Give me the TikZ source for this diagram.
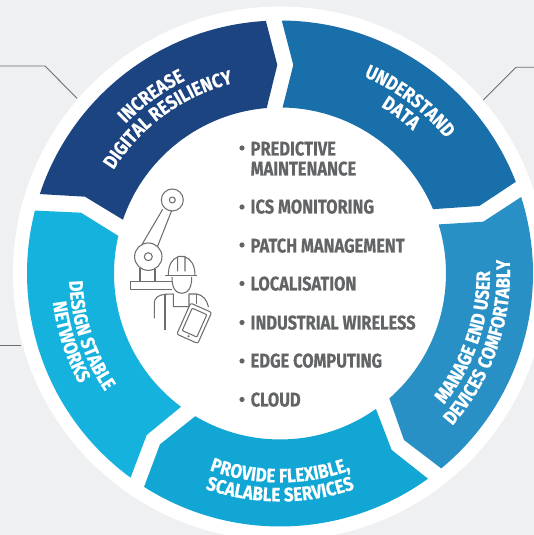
\documentclass[tikz,border=0pt]{standalone}
\usepackage{fontspec}
\usetikzlibrary{decorations.text}
\newfontfamily\labfont{Fira Sans}[FakeStretch=0.87,BoldFeatures={FakeBold=0.35}]
\newfontfamily\listfont{Fira Sans}[FakeStretch=0.83,BoldFeatures={FakeBold=0.35}]
\definecolor{pagebg}{HTML}{EFF0F2}
\definecolor{segA}{HTML}{1C4481}
\definecolor{segB}{HTML}{186FAA}
\definecolor{segC}{HTML}{2890C4}
\definecolor{segD}{HTML}{11A6D4}
\definecolor{segE}{HTML}{15B2DE}
\definecolor{ink}{HTML}{636466}
\definecolor{leader}{HTML}{6D6E70}
\tikzset{
  x=1pt,y=1pt,
  leaderline/.style={draw=leader,line width=0.9pt},
  icon/.style={draw=leader,line width=1.05pt,line join=round},
  item/.style={anchor=base west,text=ink,font=\listfont\bfseries\fontsize{19.8}{20}\selectfont,inner sep=0pt},
  dotmark/.style={fill=ink,draw=none,circle,minimum size=5.2pt,inner sep=0pt},
}
% radius, from angle, to angle, text
\newcommand\arclabel[4]{%
  \path[decorate,decoration={text along path,text align=center,
    text={|\labfont\bfseries\fontsize{19.5}{20}\selectfont\color{white}|#4}}]
    (#2:#1) arc[start angle=#2,end angle=#3,radius=#1];}
\begin{document}
\begin{tikzpicture}
\useasboundingbox (0,0) rectangle (534,535);
\fill[pagebg] (0,0) rectangle (534,535);
\begin{scope}[shift={(280,261.5)}]
\fill[white] (0,0) circle[radius=267];
% segments
\fill[segA] (93.2:253) arc[start angle=93.2,end angle=161.7,radius=253] -- (-195,76.8) -- (161.1:166) arc[start angle=161.1,end angle=94.6,radius=166] -- (-2.7,208.5) -- cycle;
\fill[segB] (89.6:253) arc[start angle=89.6,end angle=21.25,radius=253] -- (199.3,67.5) -- (22.8:166) arc[start angle=22.8,end angle=89.1,radius=166] -- (13.3,208.5) -- cycle;
\fill[segC] (17.6:253) arc[start angle=17.6,end angle=-50.4,radius=253] -- (124,-166.5) -- (-48.8:166) arc[start angle=-48.8,end angle=17.2,radius=166] -- (203.3,51.8) -- cycle;
\fill[segD] (-54.2:253) arc[start angle=-54.2,end angle=-122.5,radius=253] -- (-120,-170.8) -- (-120.7:166) arc[start angle=-120.7,end angle=-54.7,radius=166] -- (111.7,-176.5) -- cycle;
\fill[segE] (233.8:253) arc[start angle=233.8,end angle=165.6,radius=253] -- (-199,60.8) -- (166.9:166) arc[start angle=166.9,end angle=233.4,radius=166] -- (-133.3,-161.5) -- cycle;
% curved labels
\arclabel{215}{156}{96}{INCREASE}
\arclabel{196}{156}{96}{DIGITAL RESILIENCY}
\arclabel{214}{83}{23}{UNDERSTAND}
\arclabel{195}{83}{23}{DATA}
\arclabel{210}{-49}{11}{MANAGE END USER}
\arclabel{230}{-49}{11}{DEVICES COMFORTABLY}
\arclabel{209}{-120}{-60}{PROVIDE FLEXIBLE,}
\arclabel{228}{-120}{-60}{SCALABLE SERVICES}
\arclabel{211}{168}{228}{DESIGN STABLE}
\arclabel{229}{168}{228}{NETWORKS}
\end{scope}
% leader lines
\coordinate (la) at (0,469); \coordinate (lb) at (45,469); \coordinate (lc) at (77,436.7);
\draw[leaderline] (la) -- (lb) -- (lc);
\coordinate (ra) at (534,467.7); \coordinate (rb) at (516,467.7); \coordinate (rc) at (483.3,435);
\draw[leaderline] (ra) -- (rb) -- (rc);
\coordinate (ma) at (0,190); \coordinate (mb) at (20.7,190);
\draw[leaderline] (ma) -- (mb);
% list
\node[dotmark] (d1) at (242,387) {};
\node[item] (t1) at (250.5,379.5) {PREDICTIVE};
\node[item] (t1b) at (250.5,359.5) {MAINTENANCE};
\node[dotmark] (d2) at (242,328) {};
\node[item] (t2) at (250.5,321.5) {ICS MONITORING};
\node[dotmark] (d3) at (242,290) {};
\node[item] (t3) at (250.5,282.5) {PATCH MANAGEMENT};
\node[dotmark] (d4) at (242,251.5) {};
\node[item] (t4) at (250.5,244.5) {LOCALISATION};
\node[dotmark] (d5) at (242,212.5) {};
\node[item] (t5) at (250.5,205.5) {INDUSTRIAL WIRELESS};
\node[dotmark] (d6) at (242,174) {};
\node[item] (t6) at (250.5,167.5) {EDGE COMPUTING};
\node[dotmark] (d7) at (242,135.5) {};
\node[item] (t7) at (250.5,128.5) {CLOUD};
% robot arm
\draw[icon] (172.3,335) circle[radius=11];
\draw[icon] (172.3,335) circle[radius=3];
\draw[icon] (148.3,278.3) circle[radius=13.7];
\draw[icon] (148.3,278.3) circle[radius=4];
\draw[icon] (162.7,325.7) -- (141.7,290);
\draw[icon] (171.7,324.5) -- (157.3,288);
\draw[icon] (140,266.7) -- (140,253.3);
\draw[icon] (155,265.5) -- (155,253.3);
\draw[icon] (172,253.3) -- (130.7,253.3) -- (130.7,245.7) -- (172,245.7);
% worker
\draw[icon] (168.3,259.3) .. controls (168.3,270) and (172,276) .. (177.7,278) -- (177.7,263.5) (177.7,278.5) -- (185,278.5) -- (185,263.5) (185,278) .. controls (191,276) and (195,270) .. (195,259.3);
\draw[icon] (165,259.3) -- (197.3,259.3);
\draw[icon] (172,258) .. controls (172,246) and (176,241.7) .. (181.7,241.7) .. controls (187.5,241.7) and (191.7,246) .. (191.7,258);
\draw[icon] (154.3,216.7) -- (154.3,231.7) .. controls (154.3,237) and (158,240) .. (165,240.7) -- (173.3,241) -- (173.3,228.3) -- (189,228.3) -- (189,241) -- (196.7,241) .. controls (203,240) and (207,235) .. (208.5,228);
\draw[icon] (165,240.7) -- (165,205);
\draw[icon] (196.7,241) -- (196.7,231);
% tablet
\begin{scope}[shift={(194.2,211.7)},rotate=-24]
\draw[icon,fill=white,rounded corners=2pt] (-11.5,-17) rectangle (11.5,17);
\draw[icon,rounded corners=0.8pt] (-8,-11.5) rectangle (8,13);
\fill[leader] (0,-14.2) circle[radius=1.2];
\end{scope}
\end{tikzpicture}
\end{document}
